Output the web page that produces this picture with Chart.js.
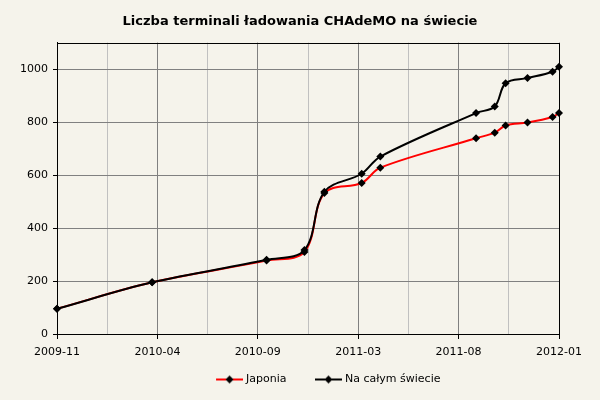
<!DOCTYPE html>
<html>
<head>
<meta charset="utf-8">
<script src="https://cdn.jsdelivr.net/npm/chart.js@4"></script>
<style>
  html, body { margin: 0; padding: 0; background: #f5f3eb; }
</style>
</head>
<body>
<canvas id="chart" width="600" height="400"></canvas>
<script>
// ==== Data ====
var dates = ['2009-11-20', '2010-04-17', '2010-10-12', '2010-12-10', '2011-01-10', '2011-03-09', '2011-04-07',
             '2011-09-03', '2011-10-02', '2011-10-19', '2011-11-22', '2011-12-31', '2012-01-10']
var japonia = [95, 195, 277, 310, 532, 570, 628, 739, 760, 787, 798, 819, 834]
var swiat   = [95, 195, 280, 317, 537, 605, 670, 834, 859, 947, 966, 990, 1009]
var yTicks = [0, 200, 400, 600, 800, 1000]
var axisStart = '2009-11-20'
var axisEnd = '2012-01-10'
var xSteps = 10 // grid every step, label every other one

function toPoints(values){
    var pts = []
    for (var i in values) {
        pts.push({ x: Date.parse(dates[i]), y: values[i] })
    }
    return pts
}

function ym(ms){
    var d = new Date(ms)
    var m = d.getUTCMonth() + 1
    return d.getUTCFullYear() + '-' + (m < 10 ? '0' + m : m)
}

// legend marker: line with a black diamond (blank on the left = gap between items)
var iconGap = 19
function legendIcon(color){
    var c = document.createElement('canvas')
    c.width = 27 + iconGap; c.height = 10
    var g = c.getContext('2d')
    g.strokeStyle = color; g.lineWidth = 2
    g.beginPath(); g.moveTo(iconGap, 5); g.lineTo(iconGap + 27, 5); g.stroke()
    g.fillStyle = '#000'
    var cx = iconGap + 13.5
    g.beginPath(); g.moveTo(cx, 1); g.lineTo(cx + 4, 5); g.lineTo(cx, 9); g.lineTo(cx - 4, 5); g.closePath(); g.fill()
    return c
}

// frame round the plot area
var framePlugin = {
    id: 'frame',
    beforeDatasetsDraw: function(chart){
        var a = chart.chartArea, ctx = chart.ctx
        ctx.save()
        ctx.strokeStyle = '#000'; ctx.lineWidth = 1
        ctx.strokeRect(Math.round(a.left) + 0.5, Math.round(a.top) + 0.5, Math.round(a.right - a.left), Math.round(a.bottom - a.top))
        ctx.restore()
    }
}

// the legend sits a bit right of centre in the original
var legendShift = {
    id: 'legendShift',
    afterLayout: function(chart){
        chart.legend.left += 20
        chart.legend.right += 20
    }
}

var xMin = Date.parse(axisStart), xMax = Date.parse(axisEnd)
var font = "'DejaVu Sans', Verdana, sans-serif"

var config = {
    type: 'line',
    data: {
        datasets: [{
            label: 'Japonia',
            data: toPoints(japonia),
            borderColor: '#ff0000',
            borderWidth: 2,
            tension: 0.35,
            pointStyle: 'rectRot',
            pointRadius: 4,
            pointBackgroundColor: '#000',
            pointBorderColor: '#000',
            pointBorderWidth: 0,
            order: 1, // under the black line
            clip: 6,
        }, {
            label: 'Na całym świecie',
            data: toPoints(swiat),
            borderColor: '#000000',
            borderWidth: 2,
            tension: 0.35,
            pointStyle: 'rectRot',
            pointRadius: 4,
            pointBackgroundColor: '#000',
            pointBorderColor: '#000',
            pointBorderWidth: 0,
            order: 0,
            clip: 6,
        }],
    },
    options: {
        responsive: false,
        animation: false,
        devicePixelRatio: 1,
        layout: { padding: { left: 0, right: 0, top: 0, bottom: 5 } },
        plugins: {
            title: {
                display: true,
                text: 'Liczba terminali ładowania CHAdeMO na świecie',
                color: '#000',
                font: { family: font, size: 13, weight: 'bold' },
                padding: { top: 14, bottom: 13 },
            },
            legend: {
                position: 'bottom',
                labels: {
                    color: '#000',
                    font: { family: font, size: 11 },
                    usePointStyle: true,
                    pointStyleWidth: 22 + iconGap,
                    padding: 12,
                    generateLabels: function(chart){
                        return chart.data.datasets.map(function(ds, i){
                            return { text: ds.label, pointStyle: legendIcon(ds.borderColor), datasetIndex: i,
                                     fillStyle: ds.borderColor, strokeStyle: ds.borderColor, lineWidth: 0, fontColor: '#000' }
                        })
                    },
                },
            },
            tooltip: { enabled: false },
        },
        scales: {
            x: {
                type: 'linear',
                min: xMin,
                max: xMax,
                afterBuildTicks: function(scale){
                    var t = []
                    for (var i = 0; i <= xSteps; i++) t.push({ value: xMin + (xMax - xMin) * i / xSteps })
                    scale.ticks = t
                },
                afterFit: function(scale){ scale.height = 28 },
                ticks: {
                    autoSkip: false,
                    maxRotation: 0,
                    color: '#000',
                    font: { family: font, size: 11 },
                    padding: 7,
                    callback: function(value, index){ return index % 2 == 0 ? ym(value) : '' },
                },
                grid: {
                    color: function(c){ return c.index % 2 == 0 ? '#808080' : '#c0c0c0' },
                    tickColor: function(c){ return c.index % 2 == 0 ? '#000' : 'rgba(0,0,0,0)' },
                    tickLength: 5,
                },
                border: { color: '#000', width: 1 },
            },
            y: {
                min: 0,
                max: 1100,
                afterBuildTicks: function(scale){
                    scale.ticks = yTicks.map(function(v){ return { value: v } })
                },
                afterFit: function(scale){ scale.width = 57 },
                ticks: {
                    color: '#000',
                    font: { family: font, size: 11 },
                    padding: 5,
                    callback: function(value){ return String(value) },
                },
                grid: {
                    color: '#808080',
                    tickColor: '#000',
                    tickLength: 4,
                },
                border: { color: '#000', width: 1 },
            },
            // empty axis on the right, only to keep the plot's right edge
            yRight: {
                position: 'right',
                display: true,
                afterFit: function(scale){ scale.width = 41 },
                ticks: { display: false },
                grid: { display: false, drawTicks: false },
                border: { display: false },
            },
        },
    },
    plugins: [framePlugin, legendShift],
}

new Chart(document.getElementById('chart').getContext('2d'), config)
</script>
</body>
</html>
